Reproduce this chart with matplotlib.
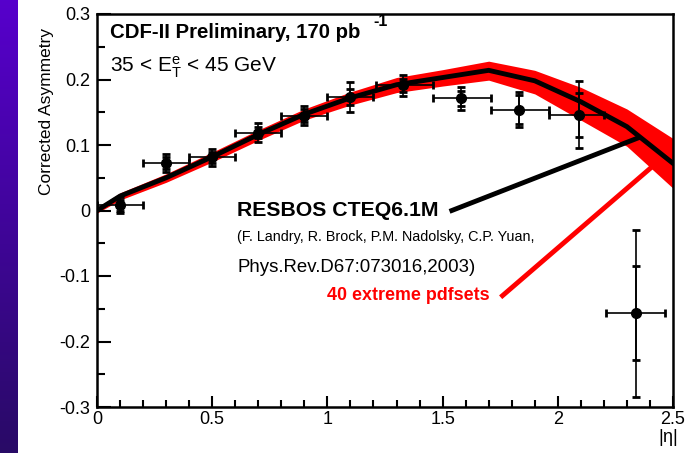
# CDF-II electron charge asymmetry vs |eta| with RESBOS CTEQ6.1M prediction

import numpy as np
import matplotlib.pyplot as plt

plt.rcParams['font.family'] = ['Liberation Sans', 'DejaVu Sans']
plt.rcParams['mathtext.fontset'] = 'custom'
plt.rcParams['mathtext.rm'] = 'Liberation Sans'
plt.rcParams['mathtext.it'] = 'Liberation Sans'

# Measured points
eta = [0.1, 0.3, 0.5, 0.7, 0.9, 1.1, 1.33, 1.58, 1.83, 2.09, 2.34]
asym = [0.008, 0.073, 0.081, 0.119, 0.145, 0.173, 0.191, 0.171, 0.154, 0.146, -0.157]
eta_lo = [0.1, 0.1, 0.1, 0.1, 0.1, 0.1, 0.12, 0.12, 0.12, 0.13, 0.13]
eta_hi = [0.1, 0.1, 0.1, 0.1, 0.1, 0.1, 0.13, 0.13, 0.13, 0.11, 0.125]
err_stat = [0.008, 0.009, 0.009, 0.009, 0.010, 0.012, 0.010, 0.012, 0.022, 0.034, 0.072]
err_tot = [0.012, 0.014, 0.013, 0.014, 0.015, 0.023, 0.016, 0.018, 0.027, 0.051, 0.127]

# RESBOS central curve and envelope of the 40 extreme pdf sets
th_eta = [0, 0.1, 0.3, 0.5, 0.7, 0.9, 1.1, 1.3, 1.5, 1.7, 1.9, 2.1, 2.3, 2.5]
th_central = [0, 0.022, 0.05, 0.082, 0.116, 0.147, 0.172, 0.192, 0.203, 0.214, 0.198, 0.166, 0.128, 0.072]
th_upper = [0.004, 0.027, 0.056, 0.089, 0.123, 0.155, 0.181, 0.203, 0.215, 0.228, 0.214, 0.188, 0.155, 0.110]
th_lower = [-0.004, 0.016, 0.043, 0.074, 0.107, 0.138, 0.161, 0.180, 0.190, 0.199, 0.178, 0.138, 0.098, 0.034]

fig = plt.figure(figsize=(6.92, 4.53), dpi=100)

# purple slide strip on the left
strip = fig.add_axes([0, 0, 18/692, 1])
grad = np.linspace(0, 1, 256).reshape(-1, 1)
top = np.array([0.34, 0.0, 0.80])
bot = np.array([0.16, 0.04, 0.40])
strip.imshow(top + (bot - top) * grad[:, :, None], aspect='auto')
strip.axis('off')

ax = fig.add_axes([97/692, 1 - 407/453, 576/692, 393/453])

ax.fill_between(th_eta, th_lower, th_upper, color='red', lw=0)
ax.plot(th_eta, th_central, color='black', lw=3.5, solid_joinstyle='miter')

ax.errorbar(eta, asym, xerr=[eta_lo, eta_hi], yerr=err_tot, fmt='o', color='black',
            ms=7, elinewidth=1.2, capsize=3, capthick=2)
ax.errorbar(eta, asym, yerr=err_stat, fmt='none', ecolor='black',
            elinewidth=1.2, capsize=3, capthick=2)

ax.set_xlim(0, 2.5)
ax.set_ylim(-0.3, 0.3)
ax.set_xticks(np.arange(0, 2.51, 0.5))
ax.set_xticklabels(['0', '0.5', '1', '1.5', '2', '2.5'])
ax.set_xticks(np.arange(0, 2.51, 0.1), minor=True)
ax.set_yticks(np.arange(-0.3, 0.31, 0.1))
ax.set_yticklabels(['-0.3', '-0.2', '-0.1', '0', '0.1', '0.2', '0.3'])
ax.set_yticks(np.arange(-0.3, 0.31, 0.05), minor=True)
ax.tick_params(axis='both', which='both', direction='in', width=1.5,
               top=False, right=False, labelsize=13)
ax.tick_params(axis='y', which='major', length=10, pad=5)
ax.tick_params(axis='y', which='minor', length=6)
ax.tick_params(axis='x', which='major', length=8, pad=3)
ax.tick_params(axis='x', which='minor', length=5)
for s in ax.spines.values():
    s.set_linewidth(1.8)

fig.text(47/692, 1 - 28/453, 'Corrected Asymmetry', rotation=90, ha='center', va='top', fontsize=12.5)
fig.text(668/692, 1 - 437/453, r'$|\eta|$', ha='center', va='center', fontsize=13)

ax.text(0.056, 0.272, 'CDF-II Preliminary, 170 pb', fontsize=14.7, fontweight='bold', va='center')
ax.text(1.20, 0.288, '-1', fontsize=11.5, fontweight='bold', va='center')
ax.text(0.056, 0.218, r'35 < E$_{\rm T}^{\rm e}$ < 45 GeV', fontsize=15, va='center')

ax.text(0.608, 0.0, 'RESBOS CTEQ6.1M', fontsize=15.3, fontweight='bold', va='center')
ax.text(0.608, -0.041, '(F. Landry, R. Brock, P.M. Nadolsky, C.P. Yuan,', fontsize=10.4, va='center')
ax.text(0.608, -0.087, 'Phys.Rev.D67:073016,2003)', fontsize=13.4, va='center')
ax.text(1.0, -0.13, '40 extreme pdfsets', fontsize=12.9, fontweight='bold', color='red', va='center')

ax.plot([1.54, 2.35], [0.0, 0.111], color='black', lw=3.5)
ax.plot([1.76, 2.40], [-0.13, 0.064], color='red', lw=3.5)

plt.savefig('out.png', dpi=100)
